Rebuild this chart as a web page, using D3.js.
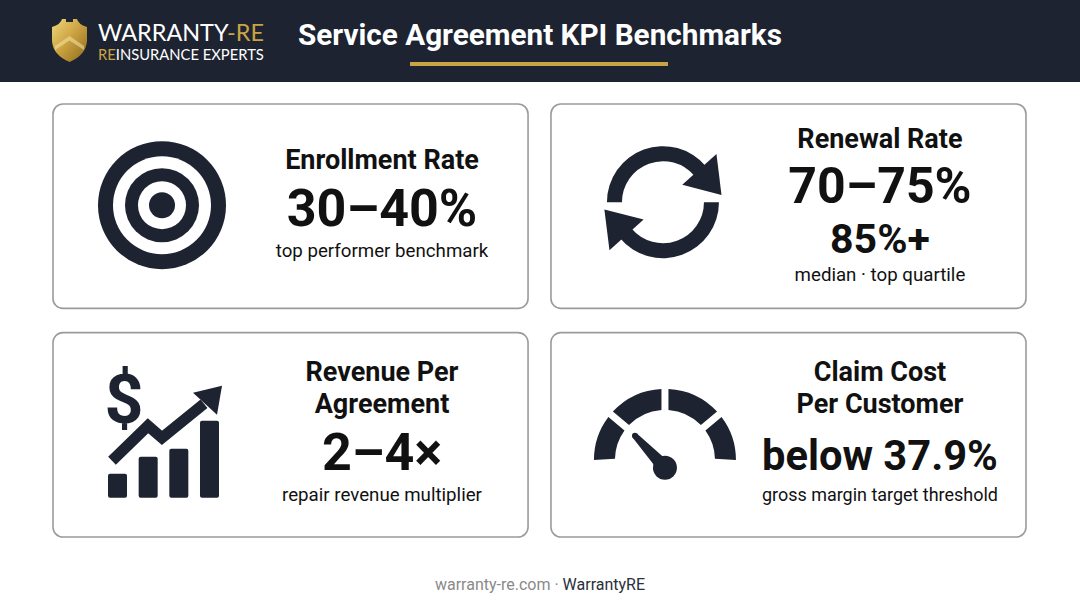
<!DOCTYPE html>
<html>
<head>
    <title>Service Agreement KPI Benchmarks</title>
    <script src="https://d3js.org/d3.v7.min.js"></script>
    <style>
        body {
            margin: 0;
            background: #ffffff;
        }
        svg text {
            font-family: Roboto, "Noto Sans", sans-serif;
        }
    </style>
</head>
<body>
    <div id="chart"></div>

    <script>
        const width = 1080, height = 603;

        // card content
        const kpiTitles = [["Enrollment Rate"], ["Renewal Rate"], ["Revenue Per", "Agreement"], ["Claim Cost", "Per Customer"]];
        const kpiValues = [["30–40%"], ["70–75%", "85%+"], ["2–4×"], ["below 37.9%"]];
        const kpiNotes = ["top performer benchmark", "median · top quartile", "repair revenue multiplier", "gross margin target threshold"];
        const kpiIcons = ["target", "refresh", "growth", "gauge"];

        // small shapes inside the icons
        const growthBars = [24, 41, 49, 77];
        const gaugeBreaks = [-90, -50, 0, 50, 90];

        const navy = "#1d2331";
        const gold = "#c9a444";
        const ink = "#111111";

        var svg = d3.select("#chart").append("svg")
            .attr("width", width)
            .attr("height", height);

        var defs = svg.append("defs");
        var grad = defs.append("linearGradient")
            .attr("id", "goldGrad")
            .attr("x1", "0").attr("y1", "0")
            .attr("x2", "1").attr("y2", "1");
        grad.append("stop").attr("offset", "0%").attr("stop-color", "#f1d77a");
        grad.append("stop").attr("offset", "50%").attr("stop-color", "#c9a040");
        grad.append("stop").attr("offset", "100%").attr("stop-color", "#8a6a1c");

        // header band
        svg.append("rect")
            .attr("x", 0).attr("y", 0)
            .attr("width", width).attr("height", 82)
            .attr("fill", navy);

        // logo shield
        var logo = svg.append("g").attr("transform", "translate(52,19)");
        logo.append("path")
            .attr("d", "M0,8 Q9,5 10,0 L14,0 L14,3 L21,3 L21,0 L25,0 Q26,5 35,8 L35,22 Q34,36 17.5,43 Q1,36 0,22 Z")
            .attr("fill", "url(#goldGrad)");
        logo.append("path")
            .attr("d", "M3,27 L17.5,17 L32,27 L32,31 L17.5,21.5 L3,31 Z")
            .attr("fill", "#f6e6a6")
            .attr("opacity", 0.55);

        // logo words, sized to a common width
        function fitText(sel, size, target) {
            sel.style("font-size", size + "px");
            var w = sel.node().getComputedTextLength();
            sel.style("font-size", (size * target / w) + "px");
        }

        var logoTop = svg.append("text")
            .attr("x", 98).attr("y", 40.5)
            .style("font-family", "Lato, sans-serif")
            .attr("fill", "#ffffff");
        logoTop.append("tspan").text("WARRANTY");
        logoTop.append("tspan").attr("fill", gold).text("-RE");
        fitText(logoTop, 23, 166);

        var logoSub = svg.append("text")
            .attr("x", 98).attr("y", 59.5)
            .style("font-family", "Lato, sans-serif")
            .attr("fill", "#ffffff");
        logoSub.append("tspan").attr("fill", gold).text("RE");
        logoSub.append("tspan").text("INSURANCE EXPERTS");
        fitText(logoSub, 15, 166);

        // title
        svg.append("text")
            .attr("x", 298).attr("y", 45)
            .style("font-size", "29.7px")
            .style("font-weight", "700")
            .attr("fill", "#ffffff")
            .text("Service Agreement KPI Benchmarks");

        svg.append("rect")
            .attr("x", 410).attr("y", 62)
            .attr("width", 258).attr("height", 4)
            .attr("fill", gold);

        // card grid
        var col = d3.scaleBand().domain([0, 1]).range([53, 1026]).paddingInner(0.046);
        var row = d3.scaleBand().domain([0, 1]).range([104, 537]).paddingInner(0.106);

        var lineStyle = {
            title: {size: 27, weight: 700},
            value: {size: 52, weight: 700},
            value2: {size: 41, weight: 700},
            note: {size: 18.7, weight: 400}
        };
        var gapAfter = {
            "title-title": 32, "title-value": 57, "value-value2": 50,
            "value-note": 31, "value2-note": 28
        };

        kpiTitles.forEach(function(titles, i) {
            var cx = col(i % 2), cy = row(Math.floor(i / 2));
            var cw = col.bandwidth(), ch = row.bandwidth();
            var g = svg.append("g");

            g.append("rect")
                .attr("x", cx).attr("y", cy)
                .attr("width", cw).attr("height", ch)
                .attr("rx", 10).attr("ry", 10)
                .attr("fill", "#ffffff")
                .attr("stroke", "#9b9b9b")
                .attr("stroke-width", 1.6);

            // stack lines
            var lines = [];
            titles.forEach(t => lines.push({kind: "title", text: t}));
            kpiValues[i].forEach((v, j) => lines.push({kind: j === 0 ? "value" : "value2", text: v}));
            lines.push({kind: "note", text: kpiNotes[i]});
            var stacked = kpiValues[i].length > 1;

            var y = 0;
            lines.forEach((l, j) => {
                if (j > 0) {
                    var key = lines[j - 1].kind + "-" + l.kind;
                    y += gapAfter[key] - (stacked && key === "title-value" ? 2 : 0);
                }
                l.y = y;
            });
            var topCap = -lineStyle.title.size * 0.71;
            var offset = cy + ch / 2 - (stacked ? 1 : 3) - (topCap + y) / 2;
            var tx = cx + 329;

            lines.forEach(l => {
                var st = lineStyle[l.kind];
                var size = (stacked && l.kind === "value") ? 50 : st.size;
                var t = g.append("text")
                    .attr("x", tx)
                    .attr("y", offset + l.y)
                    .attr("text-anchor", "middle")
                    .style("font-size", size + "px")
                    .style("font-weight", st.weight)
                    .attr("fill", ink)
                    .text(l.text);
                var w = t.node().getComputedTextLength();
                if (w > 236) {
                    t.style("font-size", (size * 236 / w) + "px");
                }
            });

            drawIcon(kpiIcons[i], cx + 110, cy + ch / 2);
        });

        function polar(x0, y0, r, deg) {
            var a = deg * Math.PI / 180;
            return [x0 + r * Math.sin(a), y0 - r * Math.cos(a)];
        }

        function drawIcon(kind, x0, y0) {
            var g = svg.append("g").attr("fill", navy);

            if (kind === "target") {
                var cxT = x0 - 1, cyT = y0 - 1;
                [[64, navy], [49, "#ffffff"], [37, navy], [24, "#ffffff"], [13, navy]].forEach(c => {
                    g.append("circle")
                        .attr("cx", cxT).attr("cy", cyT)
                        .attr("r", c[0])
                        .attr("fill", c[1]);
                });
            }

            if (kind === "refresh") {
                var rx = x0 + 2, ry = y0 - 4;
                var ring = d3.arc().innerRadius(41).outerRadius(56);
                [[-90, 50], [90, 230]].forEach(seg => {
                    g.append("path")
                        .attr("transform", "translate(" + rx + "," + ry + ")")
                        .attr("d", ring({startAngle: seg[0] * Math.PI / 180, endAngle: seg[1] * Math.PI / 180}));
                });
                [[48, 83], [228, 263]].forEach(h => {
                    var pts = [polar(rx, ry, 26, h[0]), polar(rx, ry, 72, h[0]), polar(rx, ry, 59, h[1])];
                    g.append("path").attr("d", d3.line()(pts) + "Z");
                });
            }

            if (kind === "growth") {
                var bx = d3.scaleBand().domain(d3.range(growthBars.length))
                    .range([x0 - 55, x0 + 56]).paddingInner(0.38);
                var by = d3.scaleLinear().domain([0, 80]).range([0, 80]);
                var base = y0 + 63;
                g.selectAll(".gbar")
                    .data(growthBars)
                    .enter().append("rect")
                    .attr("x", (d, j) => bx(j))
                    .attr("y", d => base - by(d))
                    .attr("width", bx.bandwidth())
                    .attr("height", d => by(d))
                    .attr("rx", 2);

                var arrowPts = [[-51, 26], [-15, -9], [-1, 3], [41, -31]].map(p => [x0 + p[0], y0 + p[1]]);
                g.append("path")
                    .attr("d", d3.line()(arrowPts))
                    .attr("fill", "none")
                    .attr("stroke", navy)
                    .attr("stroke-width", 11)
                    .attr("stroke-linejoin", "miter");
                var head = [[30, -42], [59, -49], [54, -20]].map(p => [x0 + p[0], y0 + p[1]]);
                g.append("path").attr("d", d3.line()(head) + "Z");

                g.append("text")
                    .attr("x", x0 - 39)
                    .attr("y", y0 - 12)
                    .attr("text-anchor", "middle")
                    .style("font-size", "68px")
                    .style("font-weight", "700")
                    .attr("fill", navy)
                    .text("$");
            }

            if (kind === "gauge") {
                var gx = x0 + 4, gy = y0 + 25;
                var seg = d3.arc().innerRadius(50).outerRadius(71)
                    .padAngle(0.1).padRadius(70);
                d3.pairs(gaugeBreaks).forEach((p, j) => {
                    var s = p[0], e = p[1];
                    if (j === 0) s -= 2.9;
                    if (j === gaugeBreaks.length - 2) e += 2.9;
                    g.append("path")
                        .attr("transform", "translate(" + gx + "," + gy + ")")
                        .attr("d", seg({startAngle: s * Math.PI / 180, endAngle: e * Math.PI / 180}));
                });
                // needle
                var px = gx, py = gy + 8;
                var tip = [gx - 30, gy - 24];
                var dx = tip[0] - px, dy = tip[1] - py;
                var len = Math.sqrt(dx * dx + dy * dy);
                var nx = -dy / len, ny = dx / len;
                var needle = [
                    [px + nx * 7, py + ny * 7],
                    [tip[0] + nx * 3, tip[1] + ny * 3],
                    [tip[0] - nx * 3, tip[1] - ny * 3],
                    [px - nx * 7, py - ny * 7]
                ];
                g.append("path").attr("d", d3.line()(needle) + "Z");
                g.append("circle").attr("cx", tip[0]).attr("cy", tip[1]).attr("r", 3);
                g.append("circle").attr("cx", px).attr("cy", py).attr("r", 12);
            }
        }

        // footer
        var foot = svg.append("text")
            .attr("x", width / 2).attr("y", 590)
            .attr("text-anchor", "middle")
            .style("font-size", "16px");
        foot.append("tspan").attr("fill", "#8a8a8a").text("warranty-re.com · ");
        foot.append("tspan").attr("fill", "#2a2f3a").text("WarrantyRE");
    </script>
</body>
</html>
